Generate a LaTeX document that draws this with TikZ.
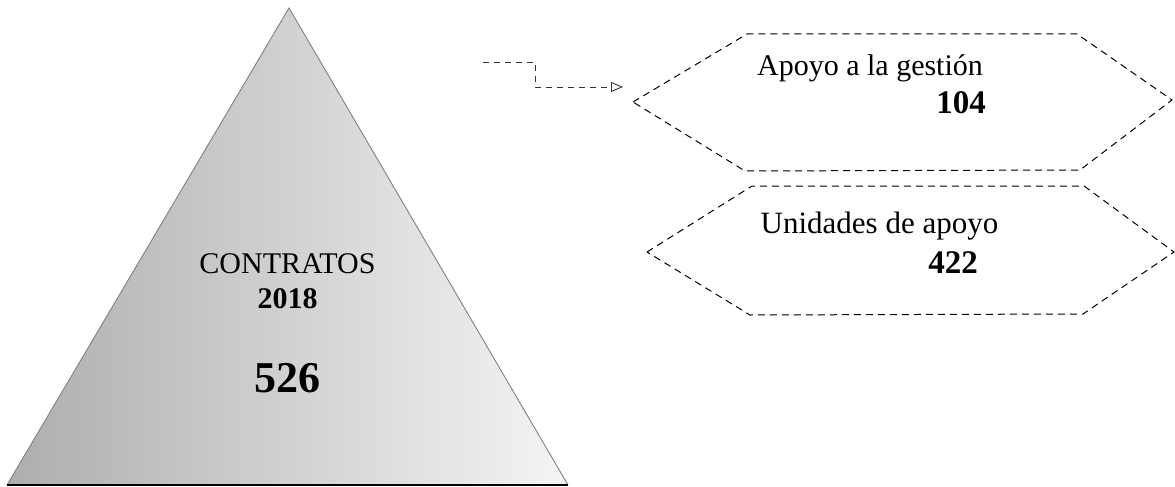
\documentclass[tikz,border=0pt]{standalone}
\usepackage{fontspec}
\setmainfont{Liberation Serif}
\usetikzlibrary{arrows.meta}
\tikzset{
  hexline/.style={draw=black, line width=1pt, dash pattern=on 7pt off 5pt},
  conn/.style={draw=black!80, line width=0.9pt, dash pattern=on 6pt off 5pt, -{Triangle[open,length=12pt,width=10pt]}},
  lbl/.style={inner sep=0pt, anchor=base, text=black},
}
\begin{document}
\begin{tikzpicture}[x=1pt,y=-1pt]
\useasboundingbox (0,0) rectangle (1175,487);
% triangle
\coordinate (apex) at (289,8);
\coordinate (bl) at (7,485);
\coordinate (br) at (568,485);
\shade[left color=black!32, right color=black!4] (apex) -- (bl) -- (br) -- cycle;
\draw[black!50, line width=0.9pt] (bl) -- (apex) -- (br);
\draw[black, line width=2.6pt] (bl) -- (br);
\node[lbl, font=\fontsize{30}{36}\selectfont] (contratos) at (287.5,273) {CONTRATOS};
\node[lbl, font=\fontsize{30}{36}\selectfont\bfseries] (year) at (287.5,308) {2018};
\node[lbl, font=\fontsize{44}{52}\selectfont\bfseries] (total) at (287.5,392) {526};
% hexagon 1
\coordinate (h1l) at (633,102);
\coordinate (h1tl) at (747,34);
\coordinate (h1tr) at (1077,34);
\coordinate (h1r) at (1172,100);
\coordinate (h1br) at (1080,170);
\coordinate (h1bl) at (745,171);
\draw[hexline] (h1l) -- (h1tl) -- (h1tr) -- (h1r) -- (h1br) -- (h1bl) -- cycle;
\node[lbl, font=\fontsize{30}{36}\selectfont] (apoyo) at (870,75) {Apoyo a la gestión};
\node[lbl, font=\fontsize{33}{40}\selectfont\bfseries] (n104) at (961,113) {104};
% hexagon 2
\coordinate (h2l) at (647,252);
\coordinate (h2tl) at (752,186);
\coordinate (h2tr) at (1084,186);
\coordinate (h2r) at (1174,252);
\coordinate (h2br) at (1083,314);
\coordinate (h2bl) at (750,315);
\draw[hexline] (h2l) -- (h2tl) -- (h2tr) -- (h2r) -- (h2br) -- (h2bl) -- cycle;
\node[lbl, font=\fontsize{31}{37}\selectfont] (unidades) at (879.5,233) {Unidades de apoyo};
\node[lbl, font=\fontsize{33}{40}\selectfont\bfseries] (n422) at (953,273) {422};
% connector
\coordinate (cs) at (483,62);
\coordinate (ce) at (623,87);
\draw[conn] (cs) -- (535,62) -- (535,87) -- (ce);
\end{tikzpicture}
\end{document}
